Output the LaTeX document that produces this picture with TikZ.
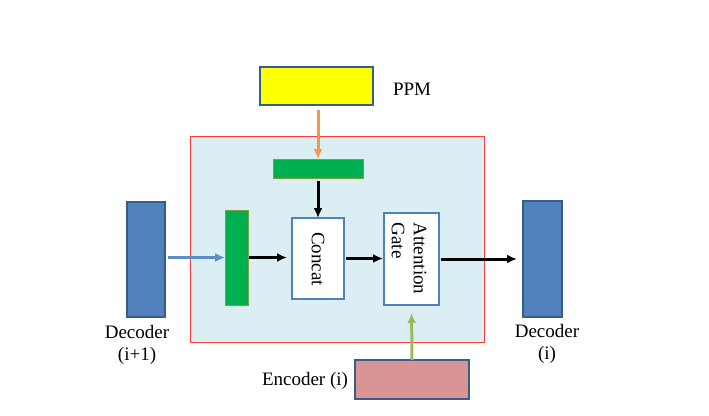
\documentclass[tikz,border=0pt]{standalone}
\usepackage{fontspec}
\setmainfont{Liberation Serif}
\usetikzlibrary{arrows.meta}
\definecolor{boxblue}{HTML}{4F81BD}
\definecolor{darkedge}{HTML}{385D8A}
\definecolor{lightbg}{HTML}{DBEEF4}
\definecolor{ppmyellow}{HTML}{FFFF00}
\definecolor{encpink}{HTML}{D99594}
\definecolor{bargreen}{HTML}{00B050}
\definecolor{baredge}{HTML}{7F9F3F}
\definecolor{arrorange}{HTML}{F79646}
\definecolor{arrgreen}{HTML}{9BBB59}
\definecolor{arrblue}{HTML}{5B8DC9}
\definecolor{frame}{HTML}{FF3B3B}
\begin{document}
\begin{tikzpicture}[x=1pt,y=-1pt,
  every node/.style={inner sep=0pt,outer sep=0pt,font=\fontsize{19}{22}\selectfont},
  blk/.style={draw=darkedge,line width=2.8pt,fill=boxblue},
  bar/.style={draw=baredge,line width=0.6pt,fill=bargreen},
  opbox/.style={draw=boxblue,line width=2.8pt,fill=white},
  arr/.style={line width=3pt,-{Latex[length=10pt,width=9pt]}},
  lbl/.style={align=center}]
\useasboundingbox (0,0) rectangle (709,415);
\node[draw=frame,line width=0.9pt,fill=lightbg,minimum width=294pt,minimum height=206pt] (frm) at (337,239) {};
\node[draw=darkedge,line width=2.8pt,fill=ppmyellow,minimum width=113pt,minimum height=38pt] (ppm) at (316.5,86) {};
\node[anchor=west] (ppmt) at (393,89) {PPM};
\node[bar,minimum width=90pt,minimum height=19pt] (gtop) at (318,168.5) {};
\node[bar,minimum width=23pt,minimum height=95pt] (gleft) at (236.5,257.5) {};
\node[opbox,minimum width=52pt,minimum height=81pt] (cat) at (318,258.5) {};
\node[rotate=-90] (catt) at (318,259) {Concat};
\node[opbox,minimum width=55pt,minimum height=92pt] (att) at (411.5,259) {};
\node[rotate=-90,align=left] (attt) at (409,258.5) {Attention\\Gate};
\node[blk,minimum width=38pt,minimum height=115pt] (dec1) at (146,259.5) {};
\node[blk,minimum width=39pt,minimum height=116pt] (dec2) at (542.5,259) {};
\node[draw=darkedge,line width=2.8pt,fill=encpink,minimum width=114pt,minimum height=39pt] (enc) at (412,379.5) {};
\node[lbl] (dec1t) at (137,345) {Decoder\\(i+1)};
\node[lbl] (dec2t) at (547,344) {Decoder\\(i)};
\node (enct) at (305,381) {Encoder (i)};
\draw[arr,arrorange,shorten <=5pt] (ppm.south -| gtop.north) -- (gtop.north);
\draw[arr,shorten <=3pt] (gtop.south) -- (cat.north);
\draw[arr,arrblue,shorten <=3pt] (dec1.east |- gleft.west) -- (gleft.west);
\draw[arr,shorten <=1pt,shorten >=5pt] (gleft.east) -- (gleft.east -| cat.west);
\draw[arr,shorten <=2pt,shorten >=1pt] (cat.east) -- (cat.east -| att.west);
\draw[arr,shorten <=2pt,shorten >=6pt] (att.east) -- (att.east -| dec2.west);
\draw[arr,arrgreen,shorten >=8pt] (enc.north) -- (att.south);
\end{tikzpicture}
\end{document}
